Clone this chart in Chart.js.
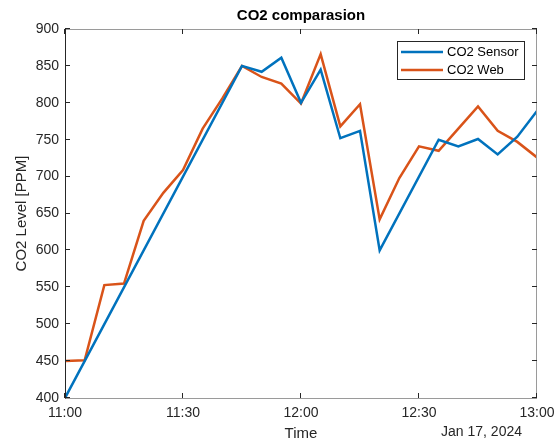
<!DOCTYPE html>
<html>
<head>
<meta charset="utf-8">
<script src="https://cdn.jsdelivr.net/npm/chart.js@4/dist/chart.umd.min.js"></script>
<style>
  html, body { margin: 0; padding: 0; background: #fff; }
  #wrap { width: 554px; height: 447px; }
</style>
</head>
<body>
<div id="wrap"><canvas id="co2-chart"></canvas></div>
<script>
const startTime = '11:00'
const xTicks = ['11:00', '11:30', '12:00', '12:30', '13:00']
const dateLabel = 'Jan 17, 2024'

const sensorTimes = ['11:00', '11:45', '11:50', '11:55', '12:00', '12:05', '12:10', '12:15', '12:20',
    '12:35', '12:40', '12:45', '12:50', '12:55', '13:00']
const sensorValues = [400, 850, 842, 861, 800, 845, 752, 762, 600, 750, 741, 751, 730, 754, 789]

const webTimes = ['11:00', '11:05', '11:10', '11:15', '11:20', '11:25', '11:30', '11:35', '11:40',
    '11:45', '11:50', '11:55', '12:00', '12:05', '12:10', '12:15', '12:20', '12:25', '12:30',
    '12:35', '12:40', '12:45', '12:50', '12:55', '13:00']
const webValues = [450, 451, 553, 555, 640, 678, 709, 765, 806, 850, 835, 826, 799, 866, 768, 798,
    642, 698, 741, 735, 765, 795, 762, 747, 726]

const yTicks = [400, 450, 500, 550, 600, 650, 700, 750, 800, 850, 900]

const FONT = 'Arial, "Liberation Sans", Helvetica, sans-serif'
const TEXT = '#262626'

// minutes after the start time, so the x axis is a plain linear scale
const toMin = (s) => {
    const [h, m] = s.split(':').map(Number)
    const [h0, m0] = startTime.split(':').map(Number)
    return (h - h0) * 60 + (m - m0)
}
const toClock = (min) => {
    const [h0, m0] = startTime.split(':').map(Number)
    const t = h0 * 60 + m0 + min
    return Math.floor(t / 60) + ':' + String(t % 60).padStart(2, '0')
}

const pairs = (times, values) => times.map((t, i) => ({ x: toMin(t), y: values[i] }))

// matlab like box, inward ticks, title, legend and date
const matlabAxes = {
    id: 'matlabAxes',
    afterDraw(chart) {
        const { ctx, chartArea: a, scales: { x, y } } = chart
        ctx.save()

        ctx.lineWidth = 1
        ctx.strokeStyle = '#9a9a9a'
        ctx.strokeRect(a.left + 0.5, a.top + 0.5, a.right - a.left - 1, a.bottom - a.top)
        ctx.strokeStyle = TEXT
        ctx.beginPath()
        ctx.moveTo(a.left + 0.5, a.top)
        ctx.lineTo(a.left + 0.5, a.bottom + 0.5)
        ctx.stroke()

        ctx.beginPath()
        xTicks.forEach(t => {
            const px = Math.round(x.getPixelForValue(toMin(t))) - 0.5
            ctx.moveTo(px, a.bottom); ctx.lineTo(px, a.bottom - 5)
            ctx.moveTo(px, a.top); ctx.lineTo(px, a.top + 5)
        })
        yTicks.forEach(v => {
            const py = Math.round(y.getPixelForValue(v)) - 0.5
            ctx.moveTo(a.left, py); ctx.lineTo(a.left + 5, py)
            ctx.moveTo(a.right, py); ctx.lineTo(a.right - 5, py)
        })
        ctx.stroke()

        // title
        ctx.fillStyle = '#000'
        ctx.font = 'bold 15px ' + FONT
        ctx.textAlign = 'center'
        ctx.textBaseline = 'middle'
        ctx.fillText('CO2 comparasion', (a.left + a.right) / 2, 16)

        // date under the last tick
        ctx.fillStyle = TEXT
        ctx.font = '14px ' + FONT
        ctx.textAlign = 'right'
        ctx.fillText(dateLabel, a.right - 15, 432)

        // legend
        const bx = a.right - 140, by = a.top + 12, bw = 127, bh = 38
        ctx.fillStyle = '#fff'
        ctx.fillRect(bx, by, bw, bh)
        ctx.strokeStyle = TEXT
        ctx.strokeRect(bx + 0.5, by + 0.5, bw, bh)
        ctx.font = '13px ' + FONT
        ctx.textAlign = 'left'
        chart.data.datasets.forEach((ds, i) => {
            const ly = by + 11 + i * 18
            ctx.strokeStyle = ds.borderColor
            ctx.lineWidth = 2.5
            ctx.beginPath()
            ctx.moveTo(bx + 4, ly); ctx.lineTo(bx + 46, ly)
            ctx.stroke()
            ctx.fillStyle = '#000'
            ctx.fillText(ds.label, bx + 50, ly)
        })

        ctx.restore()
    }
}

const chart = new Chart(document.getElementById('co2-chart'), {
    type: 'line',
    data: {
        datasets: [
            {
                label: 'CO2 Sensor',
                data: pairs(sensorTimes, sensorValues),
                borderColor: '#0072BD',
                borderWidth: 2.5
            },
            {
                label: 'CO2 Web',
                data: pairs(webTimes, webValues),
                borderColor: '#D95319',
                borderWidth: 2.5
            }
        ]
    },
    options: {
        responsive: true,
        maintainAspectRatio: false,
        animation: false,
        events: [],
        layout: { padding: { top: 29, right: 17, left: 0, bottom: 0 } },
        elements: { point: { radius: 0 }, line: { tension: 0 } },
        plugins: { legend: { display: false }, tooltip: { enabled: false } },
        scales: {
            x: {
                type: 'linear',
                min: toMin(xTicks[0]),
                max: toMin(xTicks[xTicks.length - 1]),
                afterBuildTicks: (scale) => { scale.ticks = xTicks.map(t => ({ value: toMin(t) })) },
                afterFit: (scale) => {
                    scale.height = 49
                    scale.paddingLeft = 0
                    scale.paddingRight = 0
                },
                grid: { display: false, drawTicks: false },
                border: { display: false },
                ticks: {
                    padding: 7,
                    color: TEXT,
                    font: { family: FONT, size: 14 },
                    maxRotation: 0,
                    callback: (v) => toClock(v)
                },
                title: {
                    display: true,
                    text: 'Time',
                    color: TEXT,
                    font: { family: FONT, size: 15 },
                    padding: { top: 0, bottom: 4 }
                }
            },
            y: {
                min: yTicks[0],
                max: yTicks[yTicks.length - 1],
                afterBuildTicks: (scale) => { scale.ticks = yTicks.map(v => ({ value: v })) },
                afterFit: (scale) => {
                    scale.width = 65
                    scale.paddingTop = 0
                    scale.paddingBottom = 0
                },
                grid: { display: false, drawTicks: false },
                border: { display: false },
                ticks: {
                    padding: 6,
                    color: TEXT,
                    font: { family: FONT, size: 14 }
                },
                title: {
                    display: true,
                    text: 'CO2 Level [PPM]',
                    color: TEXT,
                    font: { family: FONT, size: 15 },
                    padding: { top: 13, bottom: 0 }
                }
            }
        }
    },
    plugins: [matlabAxes]
})
</script>
</body>
</html>
